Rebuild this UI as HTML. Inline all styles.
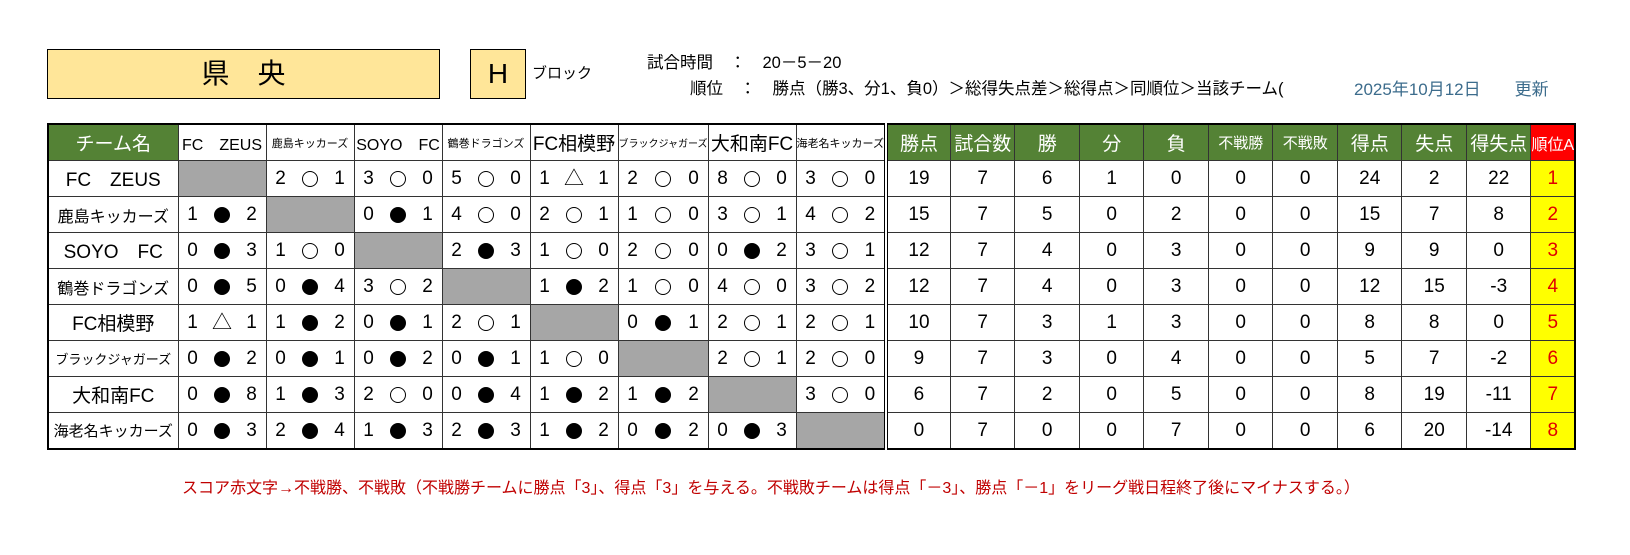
<!DOCTYPE html>
<html><head><meta charset="utf-8">
<style>
body{margin:0;width:1630px;height:555px;background:#fff;position:relative;overflow:hidden;font-family:"Liberation Sans","Noto Sans CJK JP",sans-serif;}
.abs{position:absolute;white-space:nowrap;}
#title{left:47px;top:49px;width:391px;height:48px;background:#ffe699;border:1px solid #000;font-size:28px;line-height:48px;text-align:center;}
#hbox{left:470px;top:49px;width:54px;height:48px;background:#ffe699;border:1px solid #000;font-size:28px;line-height:48px;text-align:center;}
table{position:absolute;left:47px;top:123px;border-collapse:collapse;table-layout:fixed;border:2px solid #000;}
td{border:1px solid #333;padding:0;height:35px;text-align:center;font-size:19px;overflow:hidden;white-space:nowrap;}
tr.h td{background:#548235;color:#fff;font-size:19px;}
tr.h td.w{background:#fff;color:#000;}
td.sm{font-size:11px !important;}
td.g{background:#a6a6a6;}
td.name{font-size:19px;}
td.rk{background:#ffff00;color:#e00000;}
tr.h td.rkh{background:#ff0000;color:#fff;font-size:16px;}
.sc{display:flex;justify-content:space-between;align-items:center;padding:0 6px;}
.sc b{font-weight:normal;font-size:19px;width:16px;text-align:center;}
.sc i{display:block;width:16px;height:16px;border-radius:50%;box-sizing:border-box;}
.sc i.w{border:1.3px solid #000;}
.sc i.k{background:#000;}
.sc i.t{width:20px;border-radius:0;font-style:normal;font-size:20px;line-height:16px;}
.sep{border-right:4px double #000;}
</style></head><body>
<div class="abs" id="title">県　央</div>
<div class="abs" id="hbox">H</div>
<div class="abs" style="left:532px;top:62px;font-size:15px;">ブロック</div>
<div class="abs" style="left:647px;top:49px;font-size:16.5px;">試合時間　：　20－5－20</div>
<div class="abs" style="left:690px;top:75px;font-size:16.5px;">順位　：　勝点（勝3、分1、負0）＞総得失点差＞総得点＞同順位＞当該チーム(</div>
<div class="abs" style="left:1354px;top:75px;font-size:17px;color:#3c6c8c;">2025年10月12日　　更新</div>
<table>
<colgroup><col style="width:130px"><col style="width:88px"><col style="width:88px"><col style="width:88px"><col style="width:88px"><col style="width:88px"><col style="width:88px"><col style="width:88px"><col style="width:88px"><col style="width:64.5px"><col style="width:64.5px"><col style="width:64.5px"><col style="width:64.5px"><col style="width:64.5px"><col style="width:64.5px"><col style="width:64.5px"><col style="width:64.5px"><col style="width:64.5px"><col style="width:64.5px"><col style="width:42px"></colgroup>
<tr class="h"><td>チーム名</td><td class="w" style="font-size:16px">FC　ZEUS</td><td class="w sm">鹿島キッカーズ</td><td class="w" style="font-size:16px">SOYO　FC</td><td class="w sm">鶴巻ドラゴンズ</td><td class="w">FC相模野</td><td class="w sm" style="font-size:10px!important">ブラックジャガーズ</td><td class="w">大和南FC</td><td class="w sm sep">海老名キッカーズ</td><td>勝点</td><td>試合数</td><td>勝</td><td>分</td><td>負</td><td style="font-size:15px">不戦勝</td><td style="font-size:15px">不戦敗</td><td>得点</td><td>失点</td><td>得失点</td><td class="rkh">順位A</td></tr>
<tr><td class="name">FC　ZEUS</td><td class="g"></td><td><div class="sc"><b>2</b><i class="w"></i><b>1</b></div></td><td><div class="sc"><b>3</b><i class="w"></i><b>0</b></div></td><td><div class="sc"><b>5</b><i class="w"></i><b>0</b></div></td><td><div class="sc"><b>1</b><i class="t">△</i><b>1</b></div></td><td><div class="sc"><b>2</b><i class="w"></i><b>0</b></div></td><td><div class="sc"><b>8</b><i class="w"></i><b>0</b></div></td><td class="sep"><div class="sc"><b>3</b><i class="w"></i><b>0</b></div></td><td>19</td><td>7</td><td>6</td><td>1</td><td>0</td><td>0</td><td>0</td><td>24</td><td>2</td><td>22</td><td class="rk">1</td></tr>
<tr><td class="name" style="font-size:16px">鹿島キッカーズ</td><td><div class="sc"><b>1</b><i class="k"></i><b>2</b></div></td><td class="g"></td><td><div class="sc"><b>0</b><i class="k"></i><b>1</b></div></td><td><div class="sc"><b>4</b><i class="w"></i><b>0</b></div></td><td><div class="sc"><b>2</b><i class="w"></i><b>1</b></div></td><td><div class="sc"><b>1</b><i class="w"></i><b>0</b></div></td><td><div class="sc"><b>3</b><i class="w"></i><b>1</b></div></td><td class="sep"><div class="sc"><b>4</b><i class="w"></i><b>2</b></div></td><td>15</td><td>7</td><td>5</td><td>0</td><td>2</td><td>0</td><td>0</td><td>15</td><td>7</td><td>8</td><td class="rk">2</td></tr>
<tr><td class="name">SOYO　FC</td><td><div class="sc"><b>0</b><i class="k"></i><b>3</b></div></td><td><div class="sc"><b>1</b><i class="w"></i><b>0</b></div></td><td class="g"></td><td><div class="sc"><b>2</b><i class="k"></i><b>3</b></div></td><td><div class="sc"><b>1</b><i class="w"></i><b>0</b></div></td><td><div class="sc"><b>2</b><i class="w"></i><b>0</b></div></td><td><div class="sc"><b>0</b><i class="k"></i><b>2</b></div></td><td class="sep"><div class="sc"><b>3</b><i class="w"></i><b>1</b></div></td><td>12</td><td>7</td><td>4</td><td>0</td><td>3</td><td>0</td><td>0</td><td>9</td><td>9</td><td>0</td><td class="rk">3</td></tr>
<tr><td class="name" style="font-size:16px">鶴巻ドラゴンズ</td><td><div class="sc"><b>0</b><i class="k"></i><b>5</b></div></td><td><div class="sc"><b>0</b><i class="k"></i><b>4</b></div></td><td><div class="sc"><b>3</b><i class="w"></i><b>2</b></div></td><td class="g"></td><td><div class="sc"><b>1</b><i class="k"></i><b>2</b></div></td><td><div class="sc"><b>1</b><i class="w"></i><b>0</b></div></td><td><div class="sc"><b>4</b><i class="w"></i><b>0</b></div></td><td class="sep"><div class="sc"><b>3</b><i class="w"></i><b>2</b></div></td><td>12</td><td>7</td><td>4</td><td>0</td><td>3</td><td>0</td><td>0</td><td>12</td><td>15</td><td>-3</td><td class="rk">4</td></tr>
<tr><td class="name">FC相模野</td><td><div class="sc"><b>1</b><i class="t">△</i><b>1</b></div></td><td><div class="sc"><b>1</b><i class="k"></i><b>2</b></div></td><td><div class="sc"><b>0</b><i class="k"></i><b>1</b></div></td><td><div class="sc"><b>2</b><i class="w"></i><b>1</b></div></td><td class="g"></td><td><div class="sc"><b>0</b><i class="k"></i><b>1</b></div></td><td><div class="sc"><b>2</b><i class="w"></i><b>1</b></div></td><td class="sep"><div class="sc"><b>2</b><i class="w"></i><b>1</b></div></td><td>10</td><td>7</td><td>3</td><td>1</td><td>3</td><td>0</td><td>0</td><td>8</td><td>8</td><td>0</td><td class="rk">5</td></tr>
<tr><td class="name" style="font-size:13px">ブラックジャガーズ</td><td><div class="sc"><b>0</b><i class="k"></i><b>2</b></div></td><td><div class="sc"><b>0</b><i class="k"></i><b>1</b></div></td><td><div class="sc"><b>0</b><i class="k"></i><b>2</b></div></td><td><div class="sc"><b>0</b><i class="k"></i><b>1</b></div></td><td><div class="sc"><b>1</b><i class="w"></i><b>0</b></div></td><td class="g"></td><td><div class="sc"><b>2</b><i class="w"></i><b>1</b></div></td><td class="sep"><div class="sc"><b>2</b><i class="w"></i><b>0</b></div></td><td>9</td><td>7</td><td>3</td><td>0</td><td>4</td><td>0</td><td>0</td><td>5</td><td>7</td><td>-2</td><td class="rk">6</td></tr>
<tr><td class="name">大和南FC</td><td><div class="sc"><b>0</b><i class="k"></i><b>8</b></div></td><td><div class="sc"><b>1</b><i class="k"></i><b>3</b></div></td><td><div class="sc"><b>2</b><i class="w"></i><b>0</b></div></td><td><div class="sc"><b>0</b><i class="k"></i><b>4</b></div></td><td><div class="sc"><b>1</b><i class="k"></i><b>2</b></div></td><td><div class="sc"><b>1</b><i class="k"></i><b>2</b></div></td><td class="g"></td><td class="sep"><div class="sc"><b>3</b><i class="w"></i><b>0</b></div></td><td>6</td><td>7</td><td>2</td><td>0</td><td>5</td><td>0</td><td>0</td><td>8</td><td>19</td><td>-11</td><td class="rk">7</td></tr>
<tr><td class="name" style="font-size:15px">海老名キッカーズ</td><td><div class="sc"><b>0</b><i class="k"></i><b>3</b></div></td><td><div class="sc"><b>2</b><i class="k"></i><b>4</b></div></td><td><div class="sc"><b>1</b><i class="k"></i><b>3</b></div></td><td><div class="sc"><b>2</b><i class="k"></i><b>3</b></div></td><td><div class="sc"><b>1</b><i class="k"></i><b>2</b></div></td><td><div class="sc"><b>0</b><i class="k"></i><b>2</b></div></td><td><div class="sc"><b>0</b><i class="k"></i><b>3</b></div></td><td class="g sep"></td><td>0</td><td>7</td><td>0</td><td>0</td><td>7</td><td>0</td><td>0</td><td>6</td><td>20</td><td>-14</td><td class="rk">8</td></tr>
</table>
<div class="abs" style="left:182px;top:474px;font-size:16px;color:#c00000;">スコア赤文字→不戦勝、不戦敗（不戦勝チームに勝点「3」、得点「3」を与える。不戦敗チームは得点「－3」、勝点「－1」をリーグ戦日程終了後にマイナスする。）</div>
</body></html>
